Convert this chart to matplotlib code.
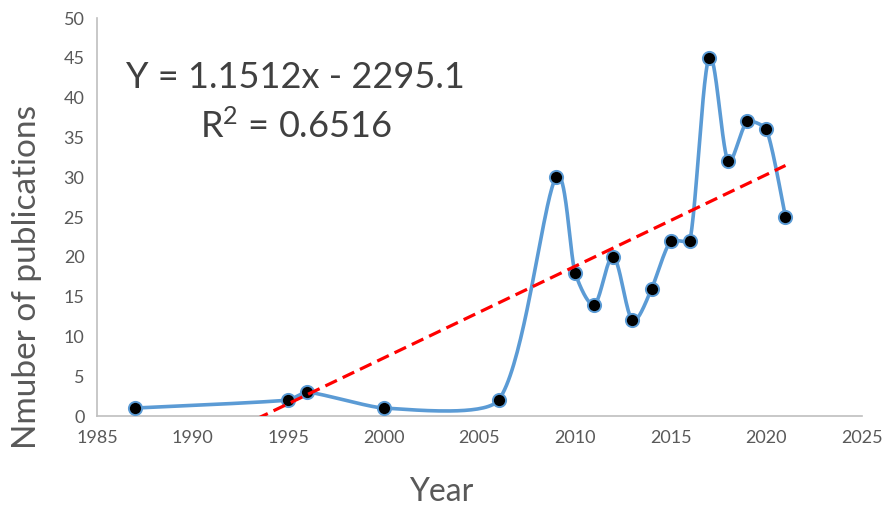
import matplotlib
matplotlib.use("Agg")
import matplotlib.pyplot as plt
import numpy as np

years = [1987, 1995, 1996, 2000, 2006, 2009, 2010, 2011, 2012, 2013,
         2014, 2015, 2016, 2017, 2018, 2019, 2020, 2021]
pubs = [1, 2, 3, 1, 2, 30, 18, 14, 20, 12, 16, 22, 22, 45, 32, 37, 36, 25]
slope = 1.1512
intercept = -2295.1
r2 = 0.6516

plt.rcParams['font.family'] = ['Lato', 'DejaVu Sans']
plt.rcParams['mathtext.fontset'] = 'custom'
plt.rcParams['mathtext.rm'] = 'Lato'
plt.rcParams['mathtext.it'] = 'Lato'
grey = '#595959'

fig = plt.figure(figsize=(8.85, 5.09), dpi=100)
ax = fig.add_axes([0.1096, 0.1827, 0.8644, 0.7819])
ax.set_xlim(1985, 2025)
ax.set_ylim(0, 50)
ax.set_xticks(range(1985, 2026, 5))
ax.set_yticks(range(0, 51, 5))


def smooth(xs, ys, n=40, k=0.19):
    # Excel-like smoothed line: Bezier segments in display space,
    # control arms capped relative to the segment length
    pts = ax.transData.transform(np.column_stack([xs, ys]))
    out = []
    last = len(pts) - 1
    for i in range(last):
        p0 = pts[max(i - 1, 0)]
        p1 = pts[i]
        p2 = pts[i + 1]
        p3 = pts[min(i + 2, last)]
        seg = np.hypot(*(p2 - p1))
        t1 = (p2 - p0) / 6.0
        t2 = (p3 - p1) / 6.0
        for t in (t1, t2):
            L = np.hypot(*t)
            if L > k * seg:
                t *= k * seg / L
        c1 = p1 + t1
        c2 = p2 - t2
        t = np.linspace(0, 1, n)[:, None]
        s = ((1 - t) ** 3 * p1 + 3 * (1 - t) ** 2 * t * c1
             + 3 * (1 - t) * t ** 2 * c2 + t ** 3 * p2)
        out.append(s if i == 0 else s[1:])
    return ax.transData.inverted().transform(np.vstack(out))


curve = smooth(years, pubs)
ax.plot(curve[:, 0], curve[:, 1], color='#5B9BD5', lw=2.6, zorder=2,
        solid_capstyle='round', solid_joinstyle='round')
ax.plot(years, pubs, 'o', ms=9.5, mfc='black', mec='#5B9BD5', mew=1.4, zorder=3)

tx = np.array([years[0], years[-1]])
ax.plot(tx, slope * tx + intercept, color='#FF0000', lw=2.3, ls=(0, (4, 2)), zorder=4)

for s in ['top', 'right']:
    ax.spines[s].set_visible(False)
ax.spines['left'].set_color('#BFBFBF')
ax.spines['bottom'].set_color('#BFBFBF')
ax.spines['left'].set_linewidth(1.2)
ax.spines['bottom'].set_linewidth(1.2)
ax.tick_params(length=0, labelsize=13, colors=grey)
ax.tick_params(axis='x', pad=10)
ax.tick_params(axis='y', pad=9)

fig.text(441 / 885, 1 - 492 / 509, 'Year', fontsize=23, color=grey,
         ha='center', va='center')
fig.text(27 / 885, 1 - 277 / 509, 'Nmuber of publications', fontsize=24,
         color=grey, ha='center', va='center', rotation=90)

fig.text(295 / 885, 1 - 78 / 509, f'Y = {slope}x - {-intercept}', fontsize=26,
         color='#404040', ha='center', va='center')
fig.text(296 / 885, 1 - 126 / 509, f'R$^2$ = {r2}', fontsize=26,
         color='#404040', ha='center', va='center')

fig.savefig('out.png', dpi=100)
